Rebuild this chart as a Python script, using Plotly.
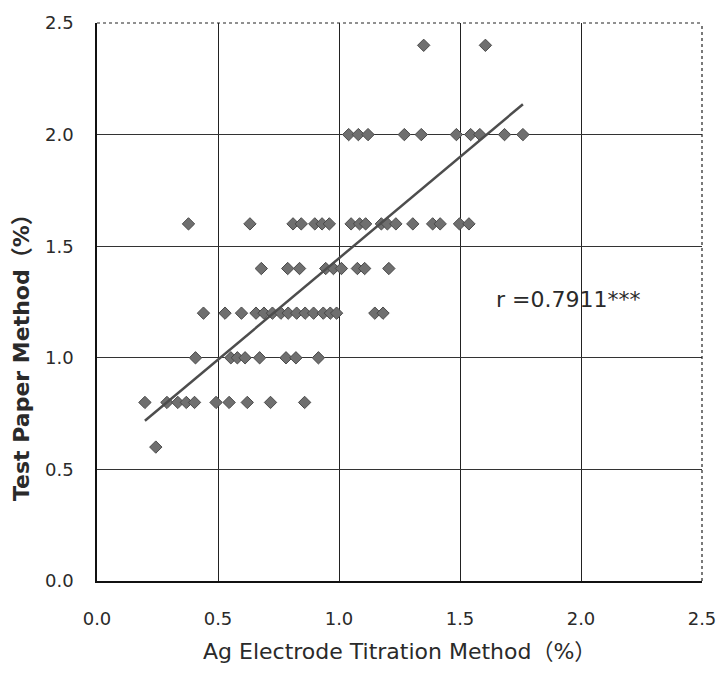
import plotly.graph_objects as go

# ---- data ----
x_24 = [1.35, 1.605]
x_20 = [1.04, 1.08, 1.12, 1.27, 1.34, 1.485, 1.544, 1.582, 1.684, 1.76]
x_16 = [0.378, 0.632, 0.81, 0.844, 0.90, 0.93, 0.96, 1.05, 1.085, 1.11,
        1.175, 1.20, 1.235, 1.305, 1.387, 1.418, 1.498, 1.537]
x_14 = [0.679, 0.788, 0.837, 0.945, 0.977, 1.01, 1.076, 1.106, 1.206]
x_12 = [0.44, 0.529, 0.597, 0.657, 0.69, 0.725, 0.76, 0.79, 0.825, 0.86,
        0.895, 0.935, 0.964, 0.99, 1.148, 1.182]
x_10 = [0.407, 0.553, 0.580, 0.612, 0.672, 0.781, 0.822, 0.915]
x_08 = [0.198, 0.289, 0.334, 0.369, 0.403, 0.492, 0.546, 0.621, 0.717, 0.858]
x_06 = [0.243]

groups = [(2.4, x_24), (2.0, x_20), (1.6, x_16), (1.4, x_14),
          (1.2, x_12), (1.0, x_10), (0.8, x_08), (0.6, x_06)]

fit_slope = 0.908
fit_intercept = 0.538
r_label = "r =0.7911***"

tick_vals = [0.0, 0.5, 1.0, 1.5, 2.0, 2.5]
tick_text = ["0.0", "0.5", "1.0", "1.5", "2.0", "2.5"]

xs, ys = [], []
for yv, xl in groups:
    xs += xl
    ys += [yv] * len(xl)

fx = [min(xs), max(xs)]
fy = [fit_slope * v + fit_intercept for v in fx]

fig = go.Figure()
fig.add_trace(go.Scatter(
    x=xs, y=ys, mode="markers",
    marker=dict(symbol="diamond", size=9.5, color="#6f6f6f",
                line=dict(color="#4a4a4a", width=1)),
    showlegend=False, hoverinfo="skip"))
fig.add_trace(go.Scatter(
    x=fx, y=fy, mode="lines",
    line=dict(color="#4d4d4d", width=2.5),
    showlegend=False, hoverinfo="skip"))

font_main = "DejaVu Sans, Liberation Sans, Arial, sans-serif"
font_cjk = font_main + ", Noto Sans CJK JP"
txt_color = "#2a2a2a"

fig.update_layout(
    width=728, height=677,
    margin=dict(l=97, r=21, t=14, b=96),
    paper_bgcolor="white", plot_bgcolor="white",
    font=dict(family=font_main, color=txt_color),
    xaxis=dict(range=[0, 2.5], tickvals=tick_vals, ticktext=tick_text,
               showgrid=True, gridcolor="#222222", gridwidth=1,
               zeroline=False, showline=True, linecolor="#111111", linewidth=1.5,
               ticks="", ticklabelstandoff=21,
               tickfont=dict(size=18, color=txt_color, family=font_main)),
    yaxis=dict(range=[0, 2.5], tickvals=tick_vals, ticktext=tick_text,
               showgrid=True, gridcolor="#333333", gridwidth=1,
               zeroline=False, showline=True, linecolor="#111111", linewidth=1.5,
               ticks="", ticklabelstandoff=18,
               tickfont=dict(size=18, color=txt_color, family=font_main)),
)

# dotted top & right frame
fig.add_shape(type="line", xref="paper", yref="paper", x0=0, x1=1, y0=1, y1=1,
              line=dict(color="#222222", width=1.2, dash="dot"))
fig.add_shape(type="line", xref="paper", yref="paper", x0=1, x1=1, y0=0, y1=1,
              line=dict(color="#222222", width=1.2, dash="dot"))

fig.add_annotation(text="Ag Electrode Titration Method（%）", xref="paper", yref="paper",
                   x=0.5, y=-0.127, xanchor="center", yanchor="middle", showarrow=False,
                   font=dict(size=22, color=txt_color, family=font_cjk))
fig.add_annotation(text="<b>Test Paper Method（%）</b>", xref="paper", yref="paper",
                   x=-0.126, y=0.41, xanchor="center", yanchor="middle", showarrow=False,
                   textangle=-90,
                   font=dict(size=22, color=txt_color, family=font_cjk))
fig.add_annotation(text=r_label, x=1.948, y=1.262, xref="x", yref="y",
                   xanchor="center", yanchor="middle", showarrow=False,
                   font=dict(size=22, color=txt_color, family=font_main))

fig.write_html("out.html")
